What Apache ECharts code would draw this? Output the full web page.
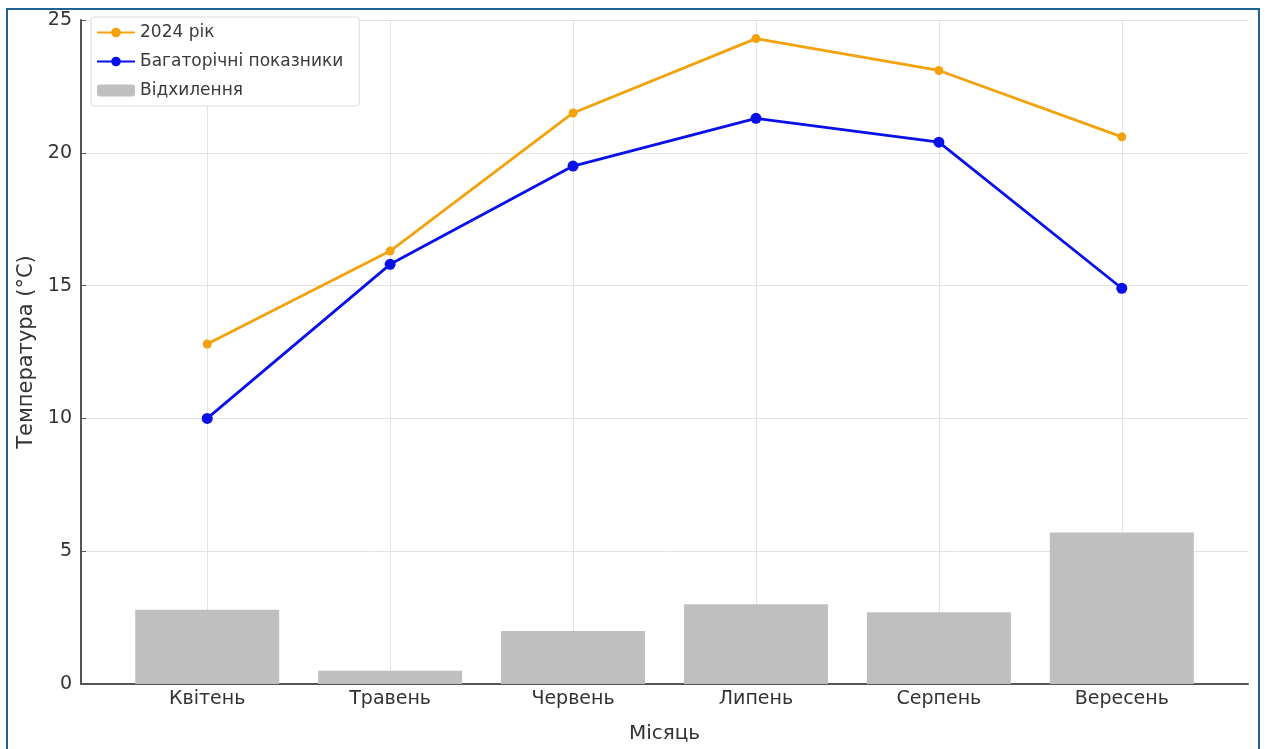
<!DOCTYPE html>
<html>
<head>
<meta charset="utf-8">
<script src="https://cdn.jsdelivr.net/npm/echarts@6/dist/echarts.min.js"></script>
<style>
html,body{margin:0;padding:0;background:#fff;}
#c{width:1265px;height:749px;}
</style>
</head>
<body>
<div id="c"></div>
<script>
const months = ['Квітень', 'Травень', 'Червень', 'Липень', 'Серпень', 'Вересень'];
const temp2024 = [12.8, 16.3, 21.5, 24.3, 23.1, 20.6];
const tempNorm = [10.0, 15.8, 19.5, 21.3, 20.4, 14.9];
const deviation = [2.8, 0.5, 2.0, 3.0, 2.7, 5.7];
const yTicks = [0, 5, 10, 15, 20, 25];

const idx = months.map((m, i) => i);
const pairs = arr => arr.map((v, i) => [i, v]);

const chart = echarts.init(document.getElementById('c'), null, {renderer: 'canvas'});
const fontFamily = 'DejaVu Sans';
chart.setOption({
  animation: false,
  textStyle: {fontFamily: fontFamily},
  graphic: [{
    type: 'rect', z: 100, silent: true,
    shape: {x: 7, y: 9, width: 1252, height: 800},
    style: {fill: 'none', stroke: '#1f6190', lineWidth: 2}
  }],
  grid: {left: 81, right: 17, top: 20, bottom: 65, containLabel: false},
  legend: {
    orient: 'vertical', left: 91, top: 17,
    backgroundColor: '#fff', borderColor: '#dcdcdc', borderWidth: 1, borderRadius: 3,
    padding: [7, 16, 7, 5],
    itemWidth: 38, itemHeight: 12, itemGap: 12,
    textStyle: {fontSize: 17, color: '#3a3a3a', fontFamily: fontFamily},
    data: ['2024 рік', 'Багаторічні показники', 'Відхилення']
  },
  xAxis: {
    type: 'value', min: -0.69, max: 5.69,
    name: 'Місяць', nameLocation: 'middle', nameGap: 40,
    nameTextStyle: {fontSize: 20, color: '#333', fontFamily: fontFamily},
    axisLine: {show: true, onZero: false, lineStyle: {color: '#555', width: 2}},
    axisTick: {show: true, inside: true, length: 5, customValues: idx, lineStyle: {color: '#555'}},
    axisLabel: {customValues: idx, fontSize: 19, color: '#333', margin: 6,
      formatter: v => months[Math.round(v)] || ''},
    splitLine: {show: true, customValues: idx, lineStyle: {color: '#e3e3e3', width: 1}}
  },
  yAxis: {
    type: 'value', min: 0, max: 25, interval: 5,
    name: 'Температура (°C)', nameLocation: 'middle', nameGap: 36,
    nameTextStyle: {fontSize: 21, color: '#333', fontFamily: fontFamily},
    axisLine: {show: true, onZero: false, lineStyle: {color: '#555', width: 2}},
    axisTick: {show: true, inside: true, length: 5, lineStyle: {color: '#555'}},
    axisLabel: {fontSize: 19, color: '#333', margin: 9,
      formatter: v => yTicks.includes(v) ? String(v) : ''},
    splitLine: {show: true, lineStyle: {color: '#e3e3e3', width: 1}}
  },
  series: [
    {
      name: 'Відхилення', type: 'bar', data: pairs(deviation), barWidth: 144,
      itemStyle: {color: '#bfbfbf'}, z: 1
    },
    {
      name: '2024 рік', type: 'line', data: pairs(temp2024),
      symbol: 'circle', symbolSize: 9,
      lineStyle: {color: '#f2a20c', width: 2.8}, itemStyle: {color: '#f2a20c'}, z: 3
    },
    {
      name: 'Багаторічні показники', type: 'line', data: pairs(tempNorm),
      symbol: 'circle', symbolSize: 11,
      lineStyle: {color: '#0a10e8', width: 2.8}, itemStyle: {color: '#0a10e8'}, z: 4
    }
  ]
});
</script>
</body>
</html>
